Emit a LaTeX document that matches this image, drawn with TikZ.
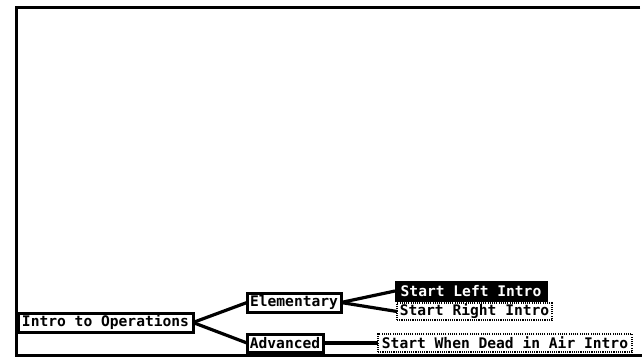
\documentclass[tikz,border=0pt]{standalone}
\usepackage{fontspec}
\newfontfamily\pixfont{DejaVu Sans Mono}
\begin{document}
\begin{tikzpicture}[x=1pt,y=-1pt,
  every node/.style={font=\pixfont\bfseries\fontsize{14.6}{15}\selectfont, inner sep=0pt, outer sep=0pt},
  solidbox/.style={draw=black, line width=3pt, fill=white},
  dotbox/.style={draw=black, line width=1.1pt, dash pattern=on 1.1pt off 1.1pt, fill=white},
  selbox/.style={draw=black, line width=1pt, fill=black, text=white},
  link/.style={line width=3.2pt, black}]
\useasboundingbox (0,0) rectangle (642,358);
\fill[white] (0,0) rectangle (642,358);
% frame (open on the right)
\draw[line width=3pt] (640,7.5) -- (16,7.5) -- (16,355) -- (642,355);
% nodes
\node[solidbox, minimum width=175pt, minimum height=19pt] (intro) at (105.5,322.5) {Intro to Operations};
\node[solidbox, minimum width=94pt, minimum height=19pt] (elem) at (294,302.5) {Elementary};
\node[solidbox, minimum width=76pt, minimum height=18pt] (adv) at (285,343) {Advanced};
\node[selbox, minimum width=152pt, minimum height=20pt] (left) at (471,291) {Start Left Intro};
\node[dotbox, minimum width=155pt, minimum height=17pt] (right) at (474.5,311.5) {Start Right Intro};
\node[dotbox, minimum width=254pt, minimum height=18pt] (dead) at (505,343) {Start When Dead in Air Intro};
% connectors
\draw[link] (intro.east) -- (elem.west);
\draw[link] (intro.east) -- (adv.west);
\draw[link] (elem.east) -- (left.west);
\draw[link] (elem.east) -- (right.west);
\draw[link] (adv.east) -- (dead.west);
\end{tikzpicture}
\end{document}
